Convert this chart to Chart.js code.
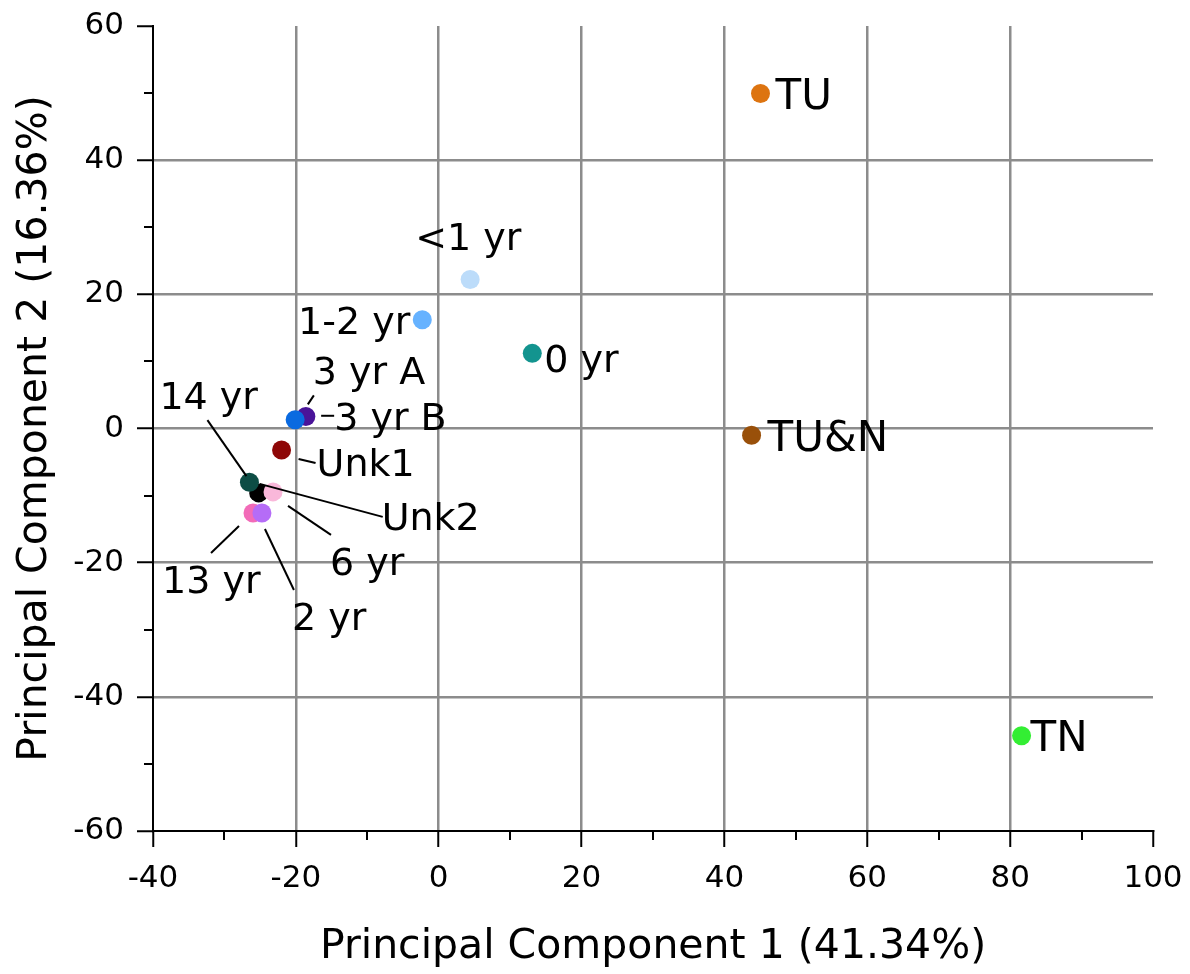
<!DOCTYPE html>
<html>
<head>
<meta charset="utf-8">
<script src="https://cdn.jsdelivr.net/npm/chart.js@4.4.1/dist/chart.umd.min.js"></script>
<style>
  html, body { margin: 0; padding: 0; background: #fff; }
  #wrap { width: 1190px; height: 974px; }
</style>
</head>
<body>
<div id="wrap"><canvas id="c" width="1190" height="974"></canvas></div>
<script>
// ---- data ----
const categories = ['TU', 'TU&N', 'TN', '<1 yr', '0 yr', '1-2 yr', '3 yr A', '3 yr B', 'Unk1', 'Unk2', '14 yr', '6 yr', '13 yr', '2 yr'];
const pc1 = [45.05, 43.8, 81.6, 4.4, 13.1, -2.3, -18.6, -20.1, -22.0, -25.2, -26.5, -23.2, -26.0, -24.75];
const pc2 = [49.95, -1.0, -45.8, 22.2, 11.2, 16.2, 1.8, 1.3, -3.2, -9.6, -8.0, -9.45, -12.6, -12.6];
const pointColors = ['#dd7410', '#99500a', '#33ee33', '#bcdcfa', '#13948f', '#66b2ff', '#4a1499', '#0a6ae0', '#8e0707', '#000000', '#0d4d45', '#f9b8da', '#f26bb8', '#b56cf7'];
const xTicks = [-40, -20, 0, 20, 40, 60, 80, 100];
const yTicks = [-60, -40, -20, 0, 20, 40, 60];
const xTitle = 'Principal Component 1 (41.34%)';
const yTitle = 'Principal Component 2 (16.36%)';

// ---- label layout (pixel offsets from each point) ----
const FONT = '"DejaVu Sans", "Liberation Sans", Arial, sans-serif';
const labelLayout = {
  'TU':     {dx: 15, dy: 16, size: 42, align: 'left'},
  'TU&N':   {dx: 16, dy: 16, size: 42, align: 'left'},
  'TN':     {dx: 9,  dy: 15, size: 42, align: 'left'},
  '<1 yr':  {dx: -55, dy: -30, size: 38, align: 'left'},
  '0 yr':   {dx: 12, dy: 19, size: 38, align: 'left'},
  '1-2 yr': {dx: -12, dy: 14, size: 38, align: 'right'},
  '3 yr A': {dx: 7, dy: -32, size: 38, align: 'left', line: [2, -12, 8, -21]},
  '3 yr B': {dx: 39, dy: 10, size: 38, align: 'left', line: [26, -4, 39, -4]},
  'Unk1':   {dx: 35, dy: 26, size: 38, align: 'left', line: [17, 9, 34, 13]},
  'Unk2':   {dx: 123, dy: 37, size: 38, align: 'left', line: [1, -9, 124, 24]},
  '14 yr':  {dx: -90, dy: -73, size: 38, align: 'left', line: [-42, -62, -3, -6]},
  '6 yr':   {dx: 57, dy: 83, size: 38, align: 'left', line: [15, 14, 58, 43]},
  '13 yr':  {dx: -91, dy: 80, size: 38, align: 'left', line: [-14, 13, -42, 40]},
  '2 yr':   {dx: 30, dy: 117, size: 38, align: 'left', line: [3, 16, 32, 77]}
};

const labelPlugin = {
  id: 'pointLabels',
  afterDatasetsDraw(chart) {
    const ctx = chart.ctx;
    const meta = chart.getDatasetMeta(0);
    ctx.save();
    meta.data.forEach((pt, i) => {
      const name = categories[i];
      const L = labelLayout[name];
      if (!L) return;
      const px = pt.x, py = pt.y;
      if (L.line) {
        ctx.beginPath();
        ctx.strokeStyle = '#000';
        ctx.lineWidth = 2;
        ctx.moveTo(px + L.line[0], py + L.line[1]);
        ctx.lineTo(px + L.line[2], py + L.line[3]);
        ctx.stroke();
      }
      ctx.font = L.size + 'px ' + FONT;
      ctx.fillStyle = '#000';
      ctx.textAlign = L.align;
      ctx.textBaseline = 'alphabetic';
      ctx.fillText(name, px + L.dx, py + L.dy);
    });
    ctx.restore();
  }
};

const minorTickPlugin = {
  id: 'minorTicks',
  afterDraw(chart) {
    const ctx = chart.ctx;
    const xs = chart.scales.x, ys = chart.scales.y;
    const area = chart.chartArea;
    ctx.save();
    ctx.strokeStyle = '#000';
    ctx.lineWidth = 2;
    for (let i = 0; i < xTicks.length - 1; i++) {
      const v = (xTicks[i] + xTicks[i + 1]) / 2;
      const x = Math.round(xs.getPixelForValue(v));
      ctx.beginPath();
      ctx.moveTo(x, area.bottom);
      ctx.lineTo(x, area.bottom + 9);
      ctx.stroke();
    }
    for (let i = 0; i < yTicks.length - 1; i++) {
      const v = (yTicks[i] + yTicks[i + 1]) / 2;
      const y = Math.round(ys.getPixelForValue(v));
      ctx.beginPath();
      ctx.moveTo(area.left, y);
      ctx.lineTo(area.left - 9, y);
      ctx.stroke();
    }
    ctx.restore();
  }
};

const points = pc1.map((x, i) => ({x: x, y: pc2[i]}));

new Chart(document.getElementById('c'), {
  type: 'scatter',
  data: {
    labels: categories,
    datasets: [{
      data: points,
      pointRadius: 9.5,
      pointHoverRadius: 9.5,
      pointBackgroundColor: pointColors,
      pointBorderWidth: 0,
      pointBorderColor: 'rgba(0,0,0,0)'
    }]
  },
  options: {
    responsive: false,
    animation: false,
    events: [],
    layout: {padding: {top: 26, right: 37, left: 0, bottom: 0}},
    plugins: {legend: {display: false}, tooltip: {enabled: false}},
    scales: {
      x: {
        type: 'linear',
        min: xTicks[0], max: xTicks[xTicks.length - 1],
        afterBuildTicks: s => { s.ticks = xTicks.map(v => ({value: v})); },
        afterFit: s => { s.height = 143; s.paddingRight = 0; },
        ticks: {color: '#000', font: {family: FONT, size: 31}, padding: 13, maxRotation: 0, autoSkip: false},
        grid: {
          color: c => (c.tick && (c.tick.value === 100 || c.tick.value === -40)) ? 'rgba(0,0,0,0)' : '#8c8c8c',
          lineWidth: 2.5,
          tickColor: '#000', tickWidth: 2, tickLength: 16, drawTicks: true
        },
        border: {color: '#000', width: 2},
        title: {display: true, text: xTitle, color: '#000', font: {family: FONT, size: 41, lineHeight: 1.2}, padding: {top: 0, bottom: 2}}
      },
      y: {
        type: 'linear',
        min: yTicks[0], max: yTicks[yTicks.length - 1],
        afterBuildTicks: s => { s.ticks = yTicks.map(v => ({value: v})); },
        afterFit: s => { s.width = 153; s.paddingTop = 0; s.paddingBottom = 0; },
        ticks: {color: '#000', font: {family: FONT, size: 31}, padding: 13},
        grid: {
          color: c => (c.tick && (c.tick.value === 60 || c.tick.value === -60)) ? 'rgba(0,0,0,0)' : '#8c8c8c',
          lineWidth: 2.5,
          tickColor: '#000', tickWidth: 2, tickLength: 16, drawTicks: true
        },
        border: {color: '#000', width: 2},
        title: {display: true, text: yTitle, color: '#000', font: {family: FONT, size: 41, lineHeight: 1.2}, padding: {top: 11, bottom: 0}}
      }
    }
  },
  plugins: [labelPlugin, minorTickPlugin]
});
</script>
</body>
</html>
